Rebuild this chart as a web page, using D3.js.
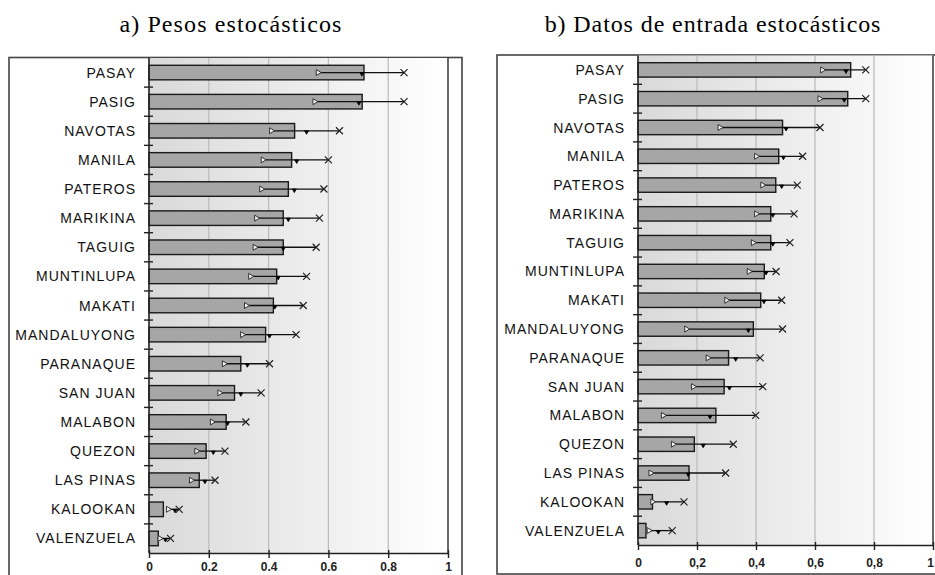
<!DOCTYPE html>
<html>
<head>
<meta charset="utf-8">
<script src="https://cdn.jsdelivr.net/npm/d3@7"></script>
<style>
  html, body { margin: 0; padding: 0; background: #fff; }
  svg { display: block; }
</style>
</head>
<body>
<svg id="chart" width="935" height="575"></svg>
<script>
// Municipalities, top to bottom
const municipios = ["PASAY", "PASIG", "NAVOTAS", "MANILA", "PATEROS", "MARIKINA", "TAGUIG",
  "MUNTINLUPA", "MAKATI", "MANDALUYONG", "PARANAQUE", "SAN JUAN", "MALABON", "QUEZON",
  "LAS PINAS", "KALOOKAN", "VALENZUELA"];

// a) Stochastic weights: bar value, minimum, mean marker, maximum
const pesosValor  = [0.719, 0.713, 0.487, 0.477, 0.466, 0.449, 0.449, 0.427, 0.416, 0.390, 0.307, 0.286, 0.258, 0.191, 0.168, 0.048, 0.031];
const pesosMin    = [0.566, 0.555, 0.410, 0.382, 0.377, 0.360, 0.355, 0.340, 0.326, 0.313, 0.252, 0.237, 0.212, 0.160, 0.142, 0.065, 0.037];
const pesosMedia  = [0.712, 0.702, 0.527, 0.494, 0.486, 0.466, 0.449, 0.432, 0.421, 0.403, 0.329, 0.307, 0.263, 0.215, 0.187, 0.087, 0.055];
const pesosMax    = [0.853, 0.853, 0.637, 0.600, 0.585, 0.570, 0.559, 0.527, 0.516, 0.492, 0.403, 0.375, 0.324, 0.254, 0.221, 0.101, 0.072];

// b) Stochastic input data: bar value, minimum, mean marker, maximum
const entradaValor = [0.721, 0.711, 0.490, 0.477, 0.467, 0.450, 0.450, 0.428, 0.416, 0.391, 0.307, 0.292, 0.264, 0.191, 0.173, 0.049, 0.027];
const entradaMin   = [0.626, 0.617, 0.278, 0.402, 0.423, 0.402, 0.391, 0.377, 0.301, 0.165, 0.238, 0.188, 0.086, 0.120, 0.044, 0.050, 0.038];
const entradaMedia = [0.705, 0.699, 0.502, 0.493, 0.487, 0.457, 0.457, 0.434, 0.427, 0.374, 0.331, 0.310, 0.244, 0.221, 0.170, 0.097, 0.069];
const entradaMax   = [0.772, 0.772, 0.617, 0.558, 0.540, 0.529, 0.515, 0.468, 0.487, 0.490, 0.414, 0.423, 0.399, 0.323, 0.297, 0.156, 0.116];

// Axis ticks
const ejeValores = [0, 0.2, 0.4, 0.6, 0.8, 1];
const ticksPuntos = ["0", "0.2", "0.4", "0.6", "0.8", "1"];
const ticksComas  = ["0", "0,2", "0,4", "0,6", "0,8", "1"];

const svg = d3.select("#chart");
const defs = svg.append("defs");
const grad = defs.append("linearGradient").attr("id", "fondo")
  .attr("x1", "0%").attr("x2", "100%").attr("y1", "0%").attr("y2", "0%");
grad.append("stop").attr("offset", "0%").attr("stop-color", "#d9d9d9");
grad.append("stop").attr("offset", "100%").attr("stop-color", "#ffffff");

const labelFont = "'Liberation Sans', Arial, sans-serif";

function drawPanel(p) {
  const g = svg.append("g");

  // title
  g.append("text")
    .attr("x", p.titleX).attr("y", 32)
    .attr("text-anchor", "middle")
    .attr("font-family", "'Liberation Serif', 'Times New Roman', serif")
    .attr("font-size", 24)
    .attr("letter-spacing", p.titleSpacing)
    .attr("fill", "#000")
    .text(p.title);

  // outer frame
  g.append("rect")
    .attr("x", p.frame[0]).attr("y", p.frame[1])
    .attr("width", p.frame[2] - p.frame[0]).attr("height", p.frame[3] - p.frame[1])
    .attr("fill", "#fff").attr("stroke", "#444").attr("stroke-width", 1.6);

  const x = d3.scaleLinear().domain([0, 1]).range([p.left, p.right]);
  const y = d3.scaleBand().domain(municipios).range([p.top, p.bottom]).paddingInner(0.5).paddingOuter(0.25);
  const band = d3.scaleBand().domain(municipios).range([p.top, p.bottom]);

  // plot background
  g.append("rect")
    .attr("x", p.left).attr("y", p.top)
    .attr("width", p.right - p.left).attr("height", p.bottom - p.top)
    .attr("fill", "url(#fondo)");

  // vertical gridlines
  g.append("g").selectAll("line")
    .data(ejeValores.slice(1, -1))
    .join("line")
    .attr("x1", d => x(d)).attr("x2", d => x(d))
    .attr("y1", p.top).attr("y2", p.bottom)
    .attr("stroke", "#bdbdbd").attr("stroke-width", 1.3);

  // right plot border
  g.append("line")
    .attr("x1", x(1)).attr("x2", x(1))
    .attr("y1", p.top).attr("y2", p.bottom)
    .attr("stroke", "#444").attr("stroke-width", 1.6);

  // bars
  g.append("g").selectAll("rect")
    .data(municipios)
    .join("rect")
    .attr("x", x(0))
    .attr("y", d => y(d))
    .attr("width", (d, i) => x(p.valor[i]) - x(0))
    .attr("height", y.bandwidth())
    .attr("fill", "#a6a6a6")
    .attr("stroke", "#1a1a1a")
    .attr("stroke-width", 1.4);

  // range lines min -> max
  const cy = d => band(d) + band.bandwidth() / 2;
  const rng = g.append("g");
  rng.selectAll("line")
    .data(municipios)
    .join("line")
    .attr("x1", (d, i) => x(p.min[i]))
    .attr("x2", (d, i) => x(p.max[i]))
    .attr("y1", cy).attr("y2", cy)
    .attr("stroke", "#111").attr("stroke-width", 1.3);

  // minimum: open triangle pointing right
  rng.selectAll("path.min")
    .data(municipios)
    .join("path")
    .attr("class", "min")
    .attr("d", (d, i) => {
      const cx = x(p.min[i]), c = cy(d);
      return `M${cx - 2},${c - 3}L${cx + 3},${c}L${cx - 2},${c + 3}Z`;
    })
    .attr("fill", "#f2f2f2").attr("stroke", "#333").attr("stroke-width", 1);

  // mean: small filled triangle
  rng.selectAll("path.media")
    .data(municipios)
    .join("path")
    .attr("class", "media")
    .attr("d", (d, i) => {
      const cx = x(p.media[i]), c = cy(d);
      return `M${cx - 2},${c}L${cx + 2},${c}L${cx},${c + 3.5}Z`;
    })
    .attr("fill", "#000").attr("stroke", "#000").attr("stroke-width", 0.8);

  // maximum: cross
  rng.selectAll("path.max")
    .data(municipios)
    .join("path")
    .attr("class", "max")
    .attr("d", (d, i) => {
      const cx = x(p.max[i]), c = cy(d);
      return `M${cx - 3.5},${c - 3.5}L${cx + 3.5},${c + 3.5}M${cx - 3.5},${c + 3.5}L${cx + 3.5},${c - 3.5}`;
    })
    .attr("stroke", "#222").attr("stroke-width", 1.2).attr("fill", "none");

  // y axis with ticks at band boundaries
  const yAxis = g.append("g");
  yAxis.append("line")
    .attr("x1", x(0)).attr("x2", x(0))
    .attr("y1", p.top).attr("y2", p.bottom)
    .attr("stroke", "#222").attr("stroke-width", 1.6);
  yAxis.selectAll("line.tick")
    .data(municipios.slice(1))
    .join("line")
    .attr("class", "tick")
    .attr("x1", x(0) - 5).attr("x2", x(0) + 4)
    .attr("y1", d => band(d)).attr("y2", d => band(d))
    .attr("stroke", "#222").attr("stroke-width", 1.4);
  yAxis.selectAll("text")
    .data(municipios)
    .join("text")
    .attr("x", x(0) - 13)
    .attr("y", cy)
    .attr("dy", "0.36em")
    .attr("text-anchor", "end")
    .attr("font-family", labelFont)
    .attr("font-size", 14)
    .attr("letter-spacing", 1.0)
    .attr("fill", "#111")
    .text(d => d);

  // x axis
  const xAxis = d3.axisBottom(x)
    .tickValues(ejeValores)
    .tickFormat((d, i) => p.tickLabels[i])
    .tickSizeInner(5).tickSizeOuter(0).tickPadding(p.tickPad);
  const ax = g.append("g")
    .attr("transform", `translate(0,${p.bottom})`)
    .call(xAxis);
  ax.select(".domain").attr("stroke", "#222").attr("stroke-width", 1.6);
  ax.selectAll(".tick line").attr("stroke", "#222").attr("stroke-width", 1.4)
    .attr("y1", -3);
  ax.selectAll(".tick text")
    .attr("font-family", labelFont)
    .attr("font-size", 12)
    .attr("font-weight", "bold")
    .attr("fill", "#222")
    .attr("dx", d => (d === 1 ? p.lastTickShift : 0));
}

drawPanel({
  title: "a) Pesos estocásticos", titleX: 231, titleSpacing: 1.1,
  frame: [9, 57.5, 462, 600],
  left: 149, right: 448, top: 58, bottom: 553,
  valor: pesosValor, min: pesosMin, media: pesosMedia, max: pesosMax,
  tickLabels: ticksPuntos, tickPad: 4.5, lastTickShift: 0
});

drawPanel({
  title: "b) Datos de entrada estocásticos", titleX: 713, titleSpacing: 0.9,
  frame: [497, 55, 960, 574],
  left: 638, right: 933, top: 55.5, bottom: 545,
  valor: entradaValor, min: entradaMin, media: entradaMedia, max: entradaMax,
  tickLabels: ticksComas, tickPad: 8.5, lastTickShift: -3
});
</script>
</body>
</html>
